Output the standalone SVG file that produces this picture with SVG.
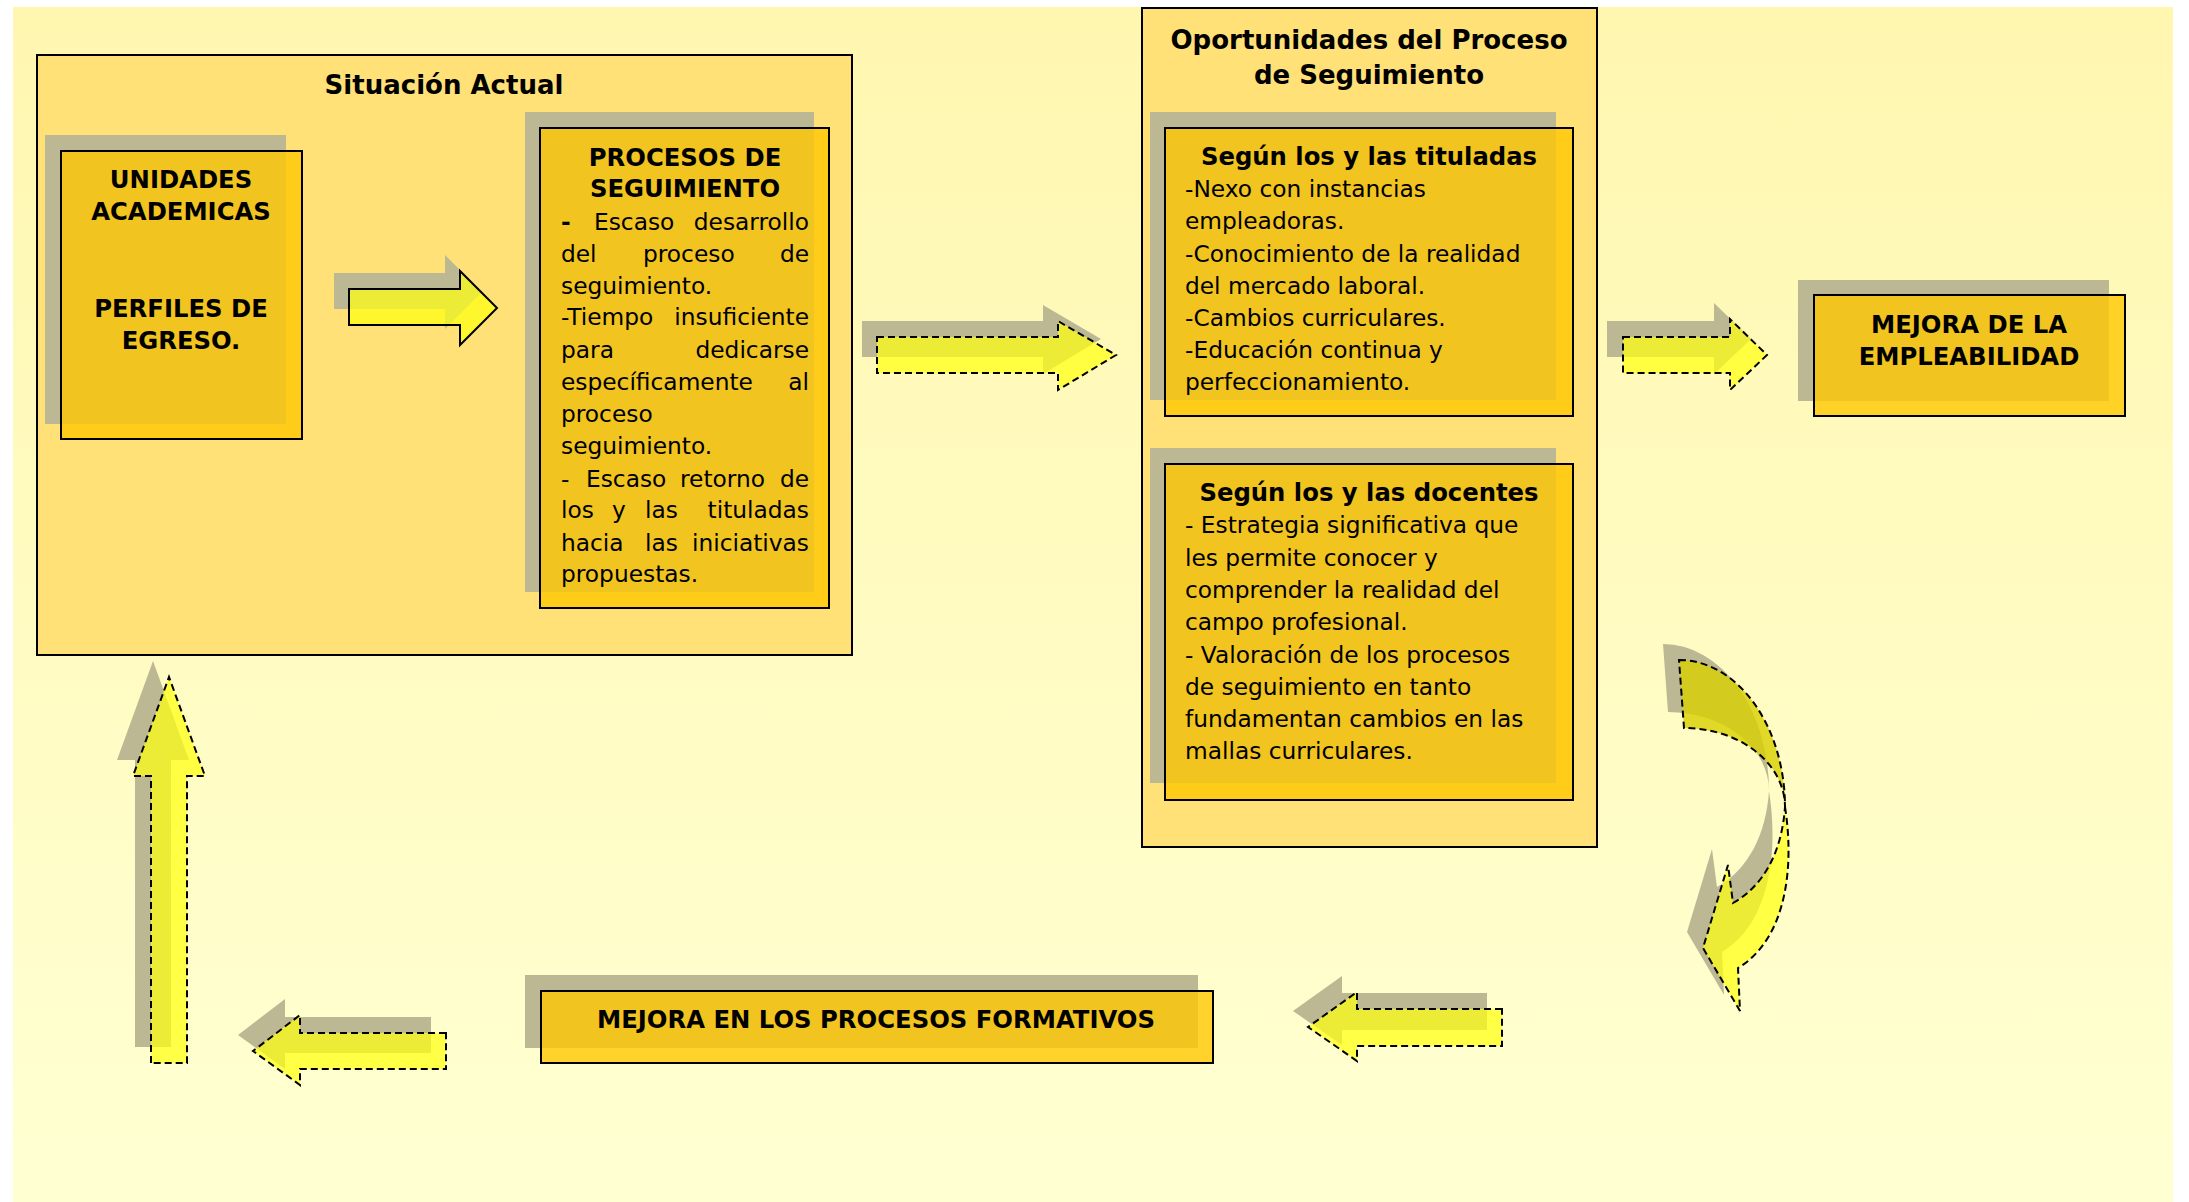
<svg xmlns="http://www.w3.org/2000/svg" width="2189" height="1202" viewBox="0 0 2189 1202">
<defs>
<linearGradient id="bg" x1="0" y1="0" x2="0" y2="1">
<stop offset="0" stop-color="#fff7b0"/>
<stop offset="1" stop-color="#ffffd2"/>
</linearGradient>
<style>
.cont{fill:#ffe177;stroke:#000;stroke-width:2}
.shd{fill:#bcb894}
.box{fill:#ffc700;fill-opacity:.79;stroke:#000;stroke-width:2}
.arr{fill:#ffff10;fill-opacity:.72;stroke:#000;stroke-width:2;stroke-linejoin:miter}
.dash{stroke-dasharray:7 4}
.arr2{fill:#d8d000;fill-opacity:.8;stroke:#000;stroke-width:2;stroke-dasharray:7 4}
text{font-family:"DejaVu Sans","Liberation Sans",sans-serif;fill:#000}
.h{font-size:26px;font-weight:bold;text-anchor:middle}
.b{font-size:24.3px;font-weight:bold;text-anchor:middle}
.t{font-size:23.3px}
.e{font-size:23.3px;text-anchor:end}
</style>
</defs>
<rect x="0" y="0" width="2189" height="1202" fill="#ffffff"/>
<rect x="13" y="7" width="2160" height="1195" fill="url(#bg)"/>

<g id="situacion-actual">
<rect class="cont" x="37" y="55" width="815" height="600"/>
<text class="h" x="444" y="94">Situación Actual</text>
</g>

<g id="unidades-academicas">
<rect class="shd" x="45" y="135" width="241" height="289"/>
<rect class="box" x="61" y="151" width="241" height="288"/>
<text class="b" x="181" y="188">UNIDADES</text>
<text class="b" x="181" y="220">ACADEMICAS</text>
<text class="b" x="181" y="317">PERFILES DE</text>
<text class="b" x="181" y="349">EGRESO.</text>
</g>

<g id="procesos-seguimiento">
<rect class="shd" x="525" y="112" width="289" height="480"/>
<rect class="box" x="540" y="128" width="289" height="480"/>
<text class="b" x="685" y="166">PROCESOS DE</text>
<text class="b" x="685" y="197">SEGUIMIENTO</text>
<text class="t" x="561" y="230" font-weight="bold">-</text>
<text class="t" x="594" y="230">Escaso</text>
<text class="e" x="809" y="230">desarrollo</text>
<text class="t" x="561" y="262">del</text>
<text class="t" x="643" y="262">proceso</text>
<text class="e" x="809" y="262">de</text>
<text class="t" x="561" y="294">seguimiento.</text>
<text class="t" x="561" y="325">-Tiempo</text>
<text class="e" x="809" y="325">insuficiente</text>
<text class="t" x="561" y="358">para</text>
<text class="e" x="809" y="358">dedicarse</text>
<text class="t" x="561" y="390">específicamente</text>
<text class="e" x="809" y="390">al</text>
<text class="t" x="561" y="422">proceso</text>
<text class="t" x="561" y="454">seguimiento.</text>
<text class="t" x="561" y="487">-</text>
<text class="t" x="586" y="487">Escaso</text>
<text class="t" x="680" y="487">retorno</text>
<text class="e" x="809" y="487">de</text>
<text class="t" x="561" y="518">los</text>
<text class="t" x="612" y="518">y</text>
<text class="t" x="645" y="518">las</text>
<text class="e" x="809" y="518">tituladas</text>
<text class="t" x="561" y="551">hacia</text>
<text class="t" x="645" y="551">las</text>
<text class="e" x="809" y="551">iniciativas</text>
<text class="t" x="561" y="582">propuestas.</text>
</g>

<g id="oportunidades">
<rect class="cont" x="1142" y="8" width="455" height="839"/>
<text class="h" x="1369" y="49">Oportunidades del Proceso</text>
<text class="h" x="1369" y="84">de Seguimiento</text>
</g>

<g id="segun-tituladas">
<rect class="shd" x="1150" y="112" width="406" height="288"/>
<rect class="box" x="1165" y="128" width="408" height="288"/>
<text class="b" x="1369" y="165">Según los y las tituladas</text>
<text class="t" x="1185" y="197">-Nexo con instancias</text>
<text class="t" x="1185" y="229">empleadoras.</text>
<text class="t" x="1185" y="262">-Conocimiento de la realidad</text>
<text class="t" x="1185" y="294">del mercado laboral.</text>
<text class="t" x="1185" y="326">-Cambios curriculares.</text>
<text class="t" x="1185" y="358">-Educación continua y</text>
<text class="t" x="1185" y="390">perfeccionamiento.</text>
</g>

<g id="segun-docentes">
<rect class="shd" x="1150" y="448" width="406" height="335"/>
<rect class="box" x="1165" y="464" width="408" height="336"/>
<text class="b" x="1369" y="501">Según los y las docentes</text>
<text class="t" x="1185" y="533">- Estrategia significativa que</text>
<text class="t" x="1185" y="566">les permite conocer y</text>
<text class="t" x="1185" y="598">comprender la realidad del</text>
<text class="t" x="1185" y="630">campo profesional.</text>
<text class="t" x="1185" y="663">- Valoración de los procesos</text>
<text class="t" x="1185" y="695">de seguimiento en tanto</text>
<text class="t" x="1185" y="727">fundamentan cambios en las</text>
<text class="t" x="1185" y="759">mallas curriculares.</text>
</g>

<g id="mejora-empleabilidad">
<rect class="shd" x="1798" y="280" width="311" height="121"/>
<rect class="box" x="1814" y="295" width="311" height="121"/>
<text class="b" x="1969" y="333">MEJORA DE LA</text>
<text class="b" x="1969" y="365">EMPLEABILIDAD</text>
</g>

<g id="mejora-procesos-formativos">
<rect class="shd" x="525" y="975" width="673" height="73"/>
<rect class="box" x="541" y="991" width="672" height="72"/>
<text class="b" x="876" y="1028">MEJORA EN LOS PROCESOS FORMATIVOS</text>
</g>

<g id="connectors">
<g id="arrow-unidades-procesos">
<path class="shd" transform="translate(-15,-16)" d="M349,289 L460,289 L460,271 L497,308 L460,345 L460,325 L349,325 Z"/>
<path class="arr" d="M349,289 L460,289 L460,271 L497,308 L460,345 L460,325 L349,325 Z"/>
</g>
<g id="arrow-procesos-oportunidades">
<path class="shd" transform="translate(-15,-16)" d="M877,337 L1058,337 L1058,321 L1116,355 L1058,390 L1058,373 L877,373 Z"/>
<path class="arr dash" d="M877,337 L1058,337 L1058,321 L1116,355 L1058,390 L1058,373 L877,373 Z"/>
</g>
<g id="arrow-oportunidades-empleabilidad">
<path class="shd" transform="translate(-16,-16)" d="M1623,337 L1730,337 L1730,319 L1767,355 L1730,390 L1730,373 L1623,373 Z"/>
<path class="arr dash" d="M1623,337 L1730,337 L1730,319 L1767,355 L1730,390 L1730,373 L1623,373 Z"/>
</g>
<g id="arrow-curved">
<g transform="translate(-16,-16)">
<path class="shd" d="M1679,660 A106,147 0 0 1 1785,807 A101,79 0 0 0 1684,728 Z"/>
<path class="shd" d="M1785,807 C1795,870 1785,940 1738,968 L1740,1011 L1703,948 L1728,865 L1733,903 C1765,885 1782,850 1785,807 Z"/>
</g>
<path class="arr2" d="M1679,660 A106,147 0 0 1 1785,807 A101,79 0 0 0 1684,728 Z"/>
<path class="arr dash" d="M1785,807 C1795,870 1785,940 1738,968 L1740,1011 L1703,948 L1728,865 L1733,903 C1765,885 1782,850 1785,807 Z"/>
</g>
<g id="arrow-to-formativos">
<path class="shd" transform="translate(-15,-16)" d="M1502,1009 L1357,1009 L1357,992 L1308,1027 L1357,1061 L1357,1046 L1502,1046 Z"/>
<path class="arr dash" d="M1502,1009 L1357,1009 L1357,992 L1308,1027 L1357,1061 L1357,1046 L1502,1046 Z"/>
</g>
<g id="arrow-from-formativos">
<path class="shd" transform="translate(-15,-16)" d="M446,1033 L300,1033 L300,1015 L253,1051 L300,1085 L300,1069 L446,1069 Z"/>
<path class="arr dash" d="M446,1033 L300,1033 L300,1015 L253,1051 L300,1085 L300,1069 L446,1069 Z"/>
</g>
<g id="arrow-up">
<path class="shd" transform="translate(-16,-16)" d="M151,1063 L151,776 L133,776 L169,677 L205,776 L187,776 L187,1063 Z"/>
<path class="arr dash" d="M151,1063 L151,776 L133,776 L169,677 L205,776 L187,776 L187,1063 Z"/>
</g>
</g>
</svg>
